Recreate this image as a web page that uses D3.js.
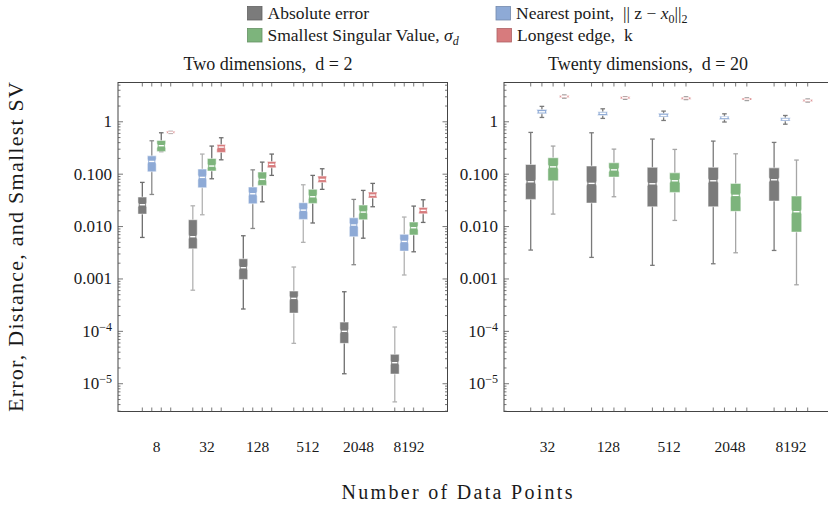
<!DOCTYPE html>
<html>
<head>
<meta charset="utf-8">
<script src="https://cdn.jsdelivr.net/npm/d3@7"></script>
<style>
  body { margin: 0; background: #fff; }
  text { font-family: 'Liberation Serif', 'Times New Roman', serif; fill: #1a1a1a; white-space: pre; }
</style>
</head>
<body>
<script>
// box stats per category: [low whisker, q1, median, q3, high whisker]
var groups2 = ["8", "32", "128", "512", "2048", "8192"];
var groups20 = ["32", "128", "512", "2048", "8192"];

var absErr2 = [
  [0.0062, 0.0173, 0.0261, 0.0366, 0.0697],
  [0.00061, 0.00377, 0.0064, 0.0135, 0.0249],
  [0.000267, 0.00098, 0.00164, 0.00243, 0.00668],
  [0.000059, 0.000223, 0.000426, 0.000587, 0.00169],
  [0.0000155, 0.000059, 0.0001, 0.00015, 0.00057],
  [0.0000045, 0.0000153, 0.0000252, 0.0000364, 0.000121]
];
var nearest2 = [
  [0.041, 0.111, 0.175, 0.224, 0.434],
  [0.0168, 0.0551, 0.0868, 0.125, 0.242],
  [0.0092, 0.0272, 0.0423, 0.0567, 0.121],
  [0.005, 0.0137, 0.0206, 0.0285, 0.0628],
  [0.00187, 0.0064, 0.0107, 0.0147, 0.033],
  [0.00119, 0.0034, 0.0052, 0.0071, 0.0152]
];
var sigma2 = [
  [0.27, 0.272, 0.35, 0.441, 0.617],
  [0.0817, 0.115, 0.143, 0.2, 0.344],
  [0.0297, 0.0611, 0.0796, 0.1097, 0.17],
  [0.0117, 0.0277, 0.0371, 0.0513, 0.0948],
  [0.006, 0.0135, 0.0189, 0.0257, 0.049],
  [0.0033, 0.0069, 0.0095, 0.0122, 0.0246]
];
var edge2 = [
  [0.6, 0.617, 0.628, 0.64, 0.655],
  [0.188, 0.26, 0.329, 0.37, 0.496],
  [0.0948, 0.132, 0.154, 0.175, 0.242],
  [0.0513, 0.0697, 0.0795, 0.092, 0.127],
  [0.0239, 0.035, 0.0399, 0.0455, 0.0667],
  [0.012, 0.0175, 0.0204, 0.0232, 0.0325]
];

var absErr20 = [
  [0.00356, 0.033, 0.0716, 0.153, 0.627],
  [0.00258, 0.0281, 0.0667, 0.143, 0.617],
  [0.00182, 0.0239, 0.0656, 0.135, 0.468],
  [0.00195, 0.0239, 0.0748, 0.135, 0.428],
  [0.0035, 0.0307, 0.0782, 0.132, 0.404]
];
var nearest20 = [
  [1.21, 1.42, 1.55, 1.72, 1.97],
  [1.16, 1.32, 1.45, 1.55, 1.77],
  [1.06, 1.23, 1.32, 1.45, 1.6],
  [0.99, 1.11, 1.21, 1.28, 1.42],
  [0.9, 1.03, 1.11, 1.19, 1.32]
];
var sigma20 = [
  [0.0173, 0.0748, 0.138, 0.206, 0.344],
  [0.0371, 0.0881, 0.121, 0.165, 0.301],
  [0.0131, 0.0449, 0.0748, 0.106, 0.297],
  [0.00316, 0.0195, 0.0394, 0.0667, 0.245],
  [0.000774, 0.00785, 0.0192, 0.0382, 0.186]
];
var edge20 = [
  [2.85, 2.95, 3.05, 3.14, 3.23],
  [2.7, 2.79, 2.87, 2.95, 3.02],
  [2.66, 2.75, 2.83, 2.91, 2.99],
  [2.55, 2.64, 2.71, 2.78, 2.86],
  [2.4, 2.49, 2.56, 2.63, 2.71]
];

var yTicks = [1, 0.1, 0.01, 0.001, 1e-4, 1e-5];
var colors = ["#7b7b7b", "#8eaad6", "#7db47c", "#d77b7d"];

var width = 828, height = 506;
var plotTop = 82.5, plotBottom = 411.5;

var svg = d3.select("body").append("svg")
  .attr("width", width).attr("height", height);

var y = d3.scaleLog().domain([Math.pow(10, -5.53), Math.pow(10, 0.75)]).range([plotBottom, plotTop]);

function panel(cfg) {
  var g = svg.append("g");
  var x = d3.scaleBand().domain(cfg.groups).range([cfg.x0, cfg.x1])
    .paddingInner(cfg.pi).paddingOuter(cfg.po);
  var inner = d3.scaleBand().domain([0, 1, 2, 3]).range([0, x.bandwidth()]);
  var bw = inner.bandwidth() * 0.93;

  // frame
  g.append("rect").attr("x", cfg.x0).attr("y", plotTop)
    .attr("width", cfg.x1 - cfg.x0).attr("height", plotBottom - plotTop)
    .attr("fill", "none").attr("stroke", "#444").attr("stroke-width", 1);

  // y ticks, major and minor, on both sides
  var minor = [];
  for (var e = -6; e <= 0; e++) {
    for (var m = 1; m <= 9; m++) {
      var v = m * Math.pow(10, e);
      if (y(v) >= plotTop && y(v) <= plotBottom) minor.push({ v: v, major: m === 1 });
    }
  }
  [cfg.x0, cfg.x1].forEach(function (xe, side) {
    g.selectAll(null).data(minor).enter().append("line")
      .attr("x1", xe)
      .attr("x2", function (d) { return xe + (side ? -1 : 1) * (d.major ? 5 : 2.5); })
      .attr("y1", function (d) { return y(d.v); })
      .attr("y2", function (d) { return y(d.v); })
      .attr("stroke", "#555").attr("stroke-width", 0.8);
  });

  // y labels
  var lab = g.selectAll(null).data(yTicks).enter().append("text")
    .attr("x", cfg.x0 - 6).attr("y", function (d) { return y(d) + 5.5; })
    .attr("text-anchor", "end").style("font-size", "17px");
  lab.each(function (d) {
    var t = d3.select(this);
    if (d >= 0.001) {
      t.text(d === 1 ? "1" : d3.format(".3f")(d));
    } else {
      t.append("tspan").text("10");
      t.append("tspan").attr("dy", -6).style("font-size", "12px")
        .text("\u2212" + Math.round(-Math.log10(d)));
    }
  });

  // x ticks at each box centre, top and bottom
  var centers = [];
  cfg.groups.forEach(function (gr) {
    [0, 1, 2, 3].forEach(function (k) {
      centers.push(x(gr) + inner(k) + inner.bandwidth() / 2);
    });
  });
  [[plotBottom, -1], [plotTop, 1]].forEach(function (p) {
    g.selectAll(null).data(centers).enter().append("line")
      .attr("x1", function (d) { return d; }).attr("x2", function (d) { return d; })
      .attr("y1", p[0]).attr("y2", p[0] + p[1] * 4)
      .attr("stroke", "#555").attr("stroke-width", 0.8);
  });

  // x labels
  g.selectAll(null).data(cfg.groups).enter().append("text")
    .attr("x", function (d) { return x(d) + x.bandwidth() / 2; })
    .attr("y", 452).attr("text-anchor", "middle").style("font-size", "15.5px")
    .text(function (d) { return d; });

  // title
  g.append("text").attr("x", cfg.titleX).attr("y", 70)
    .attr("text-anchor", "middle").style("font-size", "18px")
    .text(cfg.title);

  // boxes
  cfg.series.forEach(function (ser, k) {
    ser.forEach(function (st, i) {
      var cx = x(cfg.groups[i]) + inner(k) + inner.bandwidth() / 2;
      var wcol = cfg.whisk(k, i);
      var b = g.append("g");
      var yl = y(st[0]), yq1 = y(st[1]), ym = y(st[2]), yq3 = y(st[3]), yh = y(st[4]);
      b.append("line").attr("x1", cx).attr("x2", cx).attr("y1", yh).attr("y2", yl)
        .attr("stroke", wcol).attr("stroke-width", 1.3);
      [yh, yl].forEach(function (yy) {
        b.append("line").attr("x1", cx - 2.3).attr("x2", cx + 2.3)
          .attr("y1", yy).attr("y2", yy)
          .attr("stroke", wcol).attr("stroke-width", 1.3);
      });
      if (yq1 - yq3 < 2) { var c = (yq1 + yq3) / 2; yq1 = c + 1; yq3 = c - 1; }
      var x0 = cx - bw / 2, x1 = cx + bw / 2;
      var nh = Math.min(2.5, (yq1 - yq3) / 2), dn = bw * 0.08;
      var pts = [[x0, yq3], [x1, yq3], [x1, ym - nh], [x1 - dn, ym], [x1, ym + nh],
                 [x1, yq1], [x0, yq1], [x0, ym + nh], [x0 + dn, ym], [x0, ym - nh]];
      b.append("path").attr("d", d3.line()(pts) + "Z")
        .attr("fill", colors[k]).attr("stroke", "rgba(255,255,255,0.5)")
        .attr("stroke-width", 1);
      b.append("line").attr("x1", cx - bw * 0.3).attr("x2", cx + bw * 0.3)
        .attr("y1", ym).attr("y2", ym)
        .attr("stroke", "#fff").attr("stroke-width", 1.4);
    });
  });
}

panel({
  groups: groups2, x0: 118, x1: 447.5, pi: 0.25, po: 0.388,
  series: [absErr2, nearest2, sigma2, edge2],
  title: "Two dimensions,  d = 2", titleX: 268,
  whisk: function (k, i) {
    if (k === 0) return i % 2 ? "#b2b2b2" : "#6e6e6e";
    if (k === 1) return i % 2 ? "#b2b2b2" : "#8a8a8a";
    return "#6e6e6e";
  }
});
panel({
  groups: groups20, x0: 504, x1: 834.4, pi: 0.264, po: 0.347,
  series: [absErr20, nearest20, sigma20, edge20],
  title: "Twenty dimensions,  d = 20", titleX: 648,
  whisk: function (k, i) {
    if (k === 2) return "#a6a6a6";
    return "#7a7a7a";
  }
});

// axis titles
svg.append("text")
  .attr("transform", "translate(23," + ((plotTop + plotBottom) / 2) + ") rotate(-90)")
  .attr("text-anchor", "middle").style("font-size", "22px")
  .attr("textLength", 330).attr("lengthAdjust", "spacing")
  .text("Error, Distance, and Smallest SV");
svg.append("text").attr("x", 457).attr("y", 499)
  .attr("text-anchor", "middle").style("font-size", "20px")
  .attr("textLength", 231).attr("lengthAdjust", "spacing")
  .text("Number of Data Points");

// legend
var legendRows = [
  { c: 0, x: 247.5, y: 6.5 },
  { c: 1, x: 496, y: 6.5 },
  { c: 2, x: 247.5, y: 28.5 },
  { c: 3, x: 497, y: 28.5 }
];
var lg = svg.append("g");
lg.selectAll(null).data(legendRows).enter().append("rect")
  .attr("x", function (d) { return d.x; }).attr("y", function (d) { return d.y; })
  .attr("width", 14.5).attr("height", 13.5)
  .attr("fill", function (d) { return colors[d.c]; })
  .attr("stroke", function (d) { return d3.color(colors[d.c]).darker(0.6); })
  .attr("stroke-width", 0.8);

var lt = lg.selectAll(null).data(legendRows).enter().append("text")
  .attr("x", function (d) { return d.x + 20; })
  .attr("y", function (d) { return d.y + 12.5; })
  .style("font-size", "17.5px");
lt.each(function (d) {
  var t = d3.select(this);
  if (d.c === 0) t.text("Absolute error");
  if (d.c === 1) {
    t.append("tspan").text("Nearest point,  || z \u2212 ");
    t.append("tspan").style("font-style", "italic").text("x");
    t.append("tspan").attr("dy", 4).style("font-size", "12px").text("0");
    t.append("tspan").attr("dy", -4).text("||");
    t.append("tspan").attr("dy", 4).style("font-size", "12px").text("2");
  }
  if (d.c === 2) {
    t.append("tspan").text("Smallest Singular Value, ");
    t.append("tspan").style("font-style", "italic").text("\u03c3");
    t.append("tspan").attr("dy", 4).style("font-size", "12px")
      .style("font-style", "italic").text("d");
  }
  if (d.c === 3) t.text("Longest edge,  k");
});
</script>
</body>
</html>
